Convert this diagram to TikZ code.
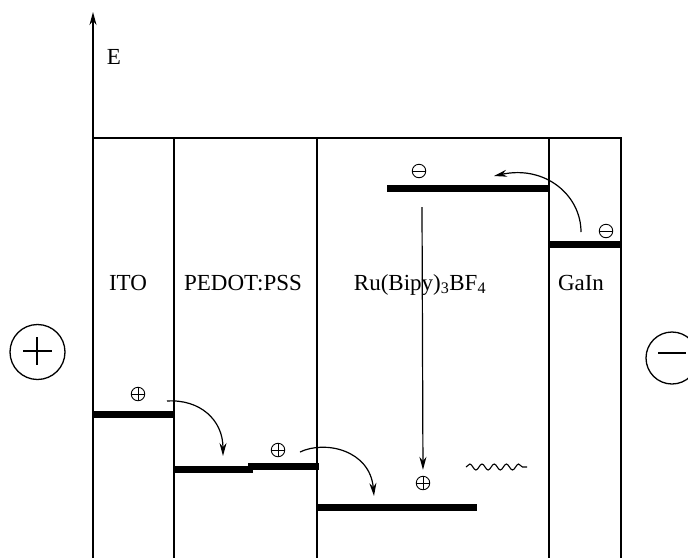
\documentclass[tikz,border=0pt]{standalone}
\usepackage{fontspec}
\setmainfont{Liberation Serif}
\usetikzlibrary{arrows.meta,decorations.pathmorphing}

\begin{document}
\begin{tikzpicture}[
  x=1pt, y=-1pt,
  font=\fontsize{23}{27}\selectfont,
  wall/.style={line width=1.4pt},
  level/.style={rectangle, fill=black, inner sep=0pt, minimum height=7pt},
  charge/.style={circle, draw, line width=0.9pt, inner sep=0pt, minimum size=13.5pt},
  hole/.style={charge, path picture={
    \draw[line width=0.8pt] (path picture bounding box.west) -- (path picture bounding box.east)
      (path picture bounding box.north) -- (path picture bounding box.south);}},
  electron/.style={charge, path picture={
    \draw[line width=0.8pt] (path picture bounding box.west) -- (path picture bounding box.east);}},
  layername/.style={anchor=base},
  electrode/.style={circle, draw, line width=1.3pt, inner sep=0pt},
  arrow/.style={-{Stealth[length=13pt, width=7pt]}, line width=1.2pt},
]
\useasboundingbox (0,0) rectangle (688,558);

% energy axis and layer frame
\coordinate (origin) at (93,558);
\coordinate (e-top) at (93,12);
\draw[arrow, line width=1.4pt] (origin) -- (e-top);
\node (e-label) at (114,57) {E};
\draw[wall] (93,138) -- (621,138) -- (621,558);
\foreach \xx in {174,317,549}
  \draw[wall] (\xx,138) -- (\xx,558);

\node[layername] (ito) at (128,290) {ITO};
\node[layername] (pedot) at (243,290) {PEDOT:PSS};
\node[layername] (ru) at (420,290) {Ru(Bipy)\textsubscript{3}BF\textsubscript{4}};
\node[layername] (gain) at (581,290) {GaIn};

% levels
\node[level, minimum width=79pt] (ito-lvl) at (133.5,414) {};
\node[level, minimum width=79pt] (pedot-lvl-a) at (213.5,469) {};
\node[level, minimum width=71pt] (pedot-lvl-b) at (283.5,466) {};
\node[level, minimum width=160pt] (homo) at (397,507) {};
\node[level, minimum width=162pt] (lumo) at (468,188) {};
\node[level, minimum width=72pt] (gain-lvl) at (585,244) {};

% charges
\node[hole] (h1) at (138,394) {};
\node[hole] (h2) at (278,450) {};
\node[hole] (h3) at (423,483) {};
\node[electron] (e1) at (419,171) {};
\node[electron] (e2) at (606,231) {};

% hops
\coordinate (hop1-s) at (167,401);
\coordinate (hop1-e) at (223,456);
\coordinate (hop2-s) at (300,452);
\coordinate (hop2-e) at (374,496);
\coordinate (hop3-s) at (581,232);
\coordinate (hop3-e) at (494,176);
\coordinate (rec-top) at (422,207);
\draw[arrow] (hop1-s) .. controls (200,399) and (223,420) .. (hop1-e);
\draw[arrow] (hop2-s) .. controls (325,440) and (370,450) .. (hop2-e);
\draw[arrow] (hop3-s) .. controls (581,195) and (545,165) .. (hop3-e);
\draw[arrow, shorten >=6pt] (rec-top) -- (h3.north);

% emitted light
\coordinate (photon-a) at (466,467);
\coordinate (photon-b) at (527,467);
\draw[line width=1.1pt, decorate, decoration={snake, segment length=12.2pt, amplitude=3pt}] (photon-a) -- (photon-b);

% electrodes
\node[electrode, minimum size=55pt] (anode) at (37.5,352) {};
\draw[wall] (23,351) -- (52,351);
\draw[wall] (37,337) -- (37,365);
\node[electrode, minimum size=52pt] (cathode) at (672,358) {};
\draw[wall] (658,353) -- (686,353);

\end{tikzpicture}
\end{document}
